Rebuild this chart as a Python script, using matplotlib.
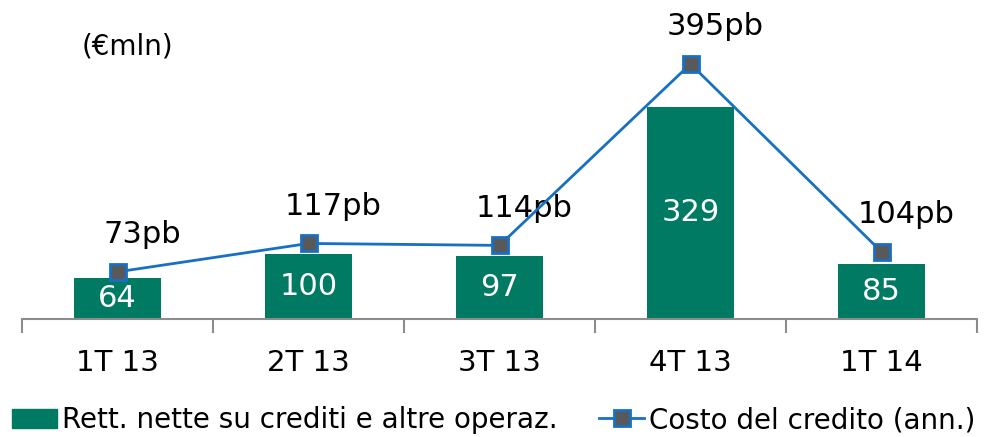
import matplotlib.pyplot as plt
from matplotlib.lines import Line2D
from matplotlib.patches import Patch

categorie = ["1T 13", "2T 13", "3T 13", "4T 13", "1T 14"]
rettifiche = [64, 100, 97, 329, 85]
costo_credito = [73, 117, 114, 395, 104]
etichette_costo = ["73pb", "117pb", "114pb", "395pb", "104pb"]

verde = "#007A63"
blu = "#1770C4"
grigio = "#595959"

plt.rcParams['font.family'] = ['DejaVu Sans']

fig = plt.figure(figsize=(9.88, 4.37), dpi=100)
ax = fig.add_axes([22/988, 118/437, 955/988, 319/437])

x = list(range(len(categorie)))
ax.bar(x, rettifiche, width=0.455, color=verde, zorder=2)
for i, v in enumerate(rettifiche):
    ax.text(i, v/2, str(v), ha='center', va='center',
            color='white', fontsize=22, zorder=3)

ax.plot(x, costo_credito, color=blu, lw=2, marker='s', ms=11,
        mfc=grigio, mec=blu, mew=2, zorder=5)
for i, (v, t) in enumerate(zip(costo_credito, etichette_costo)):
    ax.annotate(t, (i, v), xytext=(25, 37), textcoords='offset pixels',
                ha='center', va='center', fontsize=22, color='black', zorder=3)

ax.set_xlim(-0.5, 4.5)
ax.set_ylim(0, 494)
ax.set_yticks([])
for s in ['top', 'right', 'left']:
    ax.spines[s].set_visible(False)
ax.spines['bottom'].set_color('#8C8C8C')
ax.spines['bottom'].set_linewidth(1.5)
ax.set_xticks([i - 0.5 for i in range(len(categorie) + 1)])
ax.set_xticklabels([])
ax.tick_params(axis='x', length=10, width=1.5, color='#8C8C8C')
for i, c in enumerate(categorie):
    ax.text(i, -68, c, ha='center', va='center', fontsize=21)

fig.text(82/988, 1 - 47/437, "(€mln)", ha='left', va='center', fontsize=20)

handles = [Patch(color=verde),
           Line2D([0], [0], color=blu, lw=2, marker='s', ms=11, mfc=grigio, mec=blu, mew=2)]
fig.legend(handles, ["Rett. nette su crediti e altre operaz.", "Costo del credito (ann.)"],
           loc='center', bbox_to_anchor=(0.5, 1 - 420/437), ncol=2, frameon=False,
           fontsize=20, handlelength=1.6, handletextpad=0.2, columnspacing=1.5)

fig.savefig("out.png")
